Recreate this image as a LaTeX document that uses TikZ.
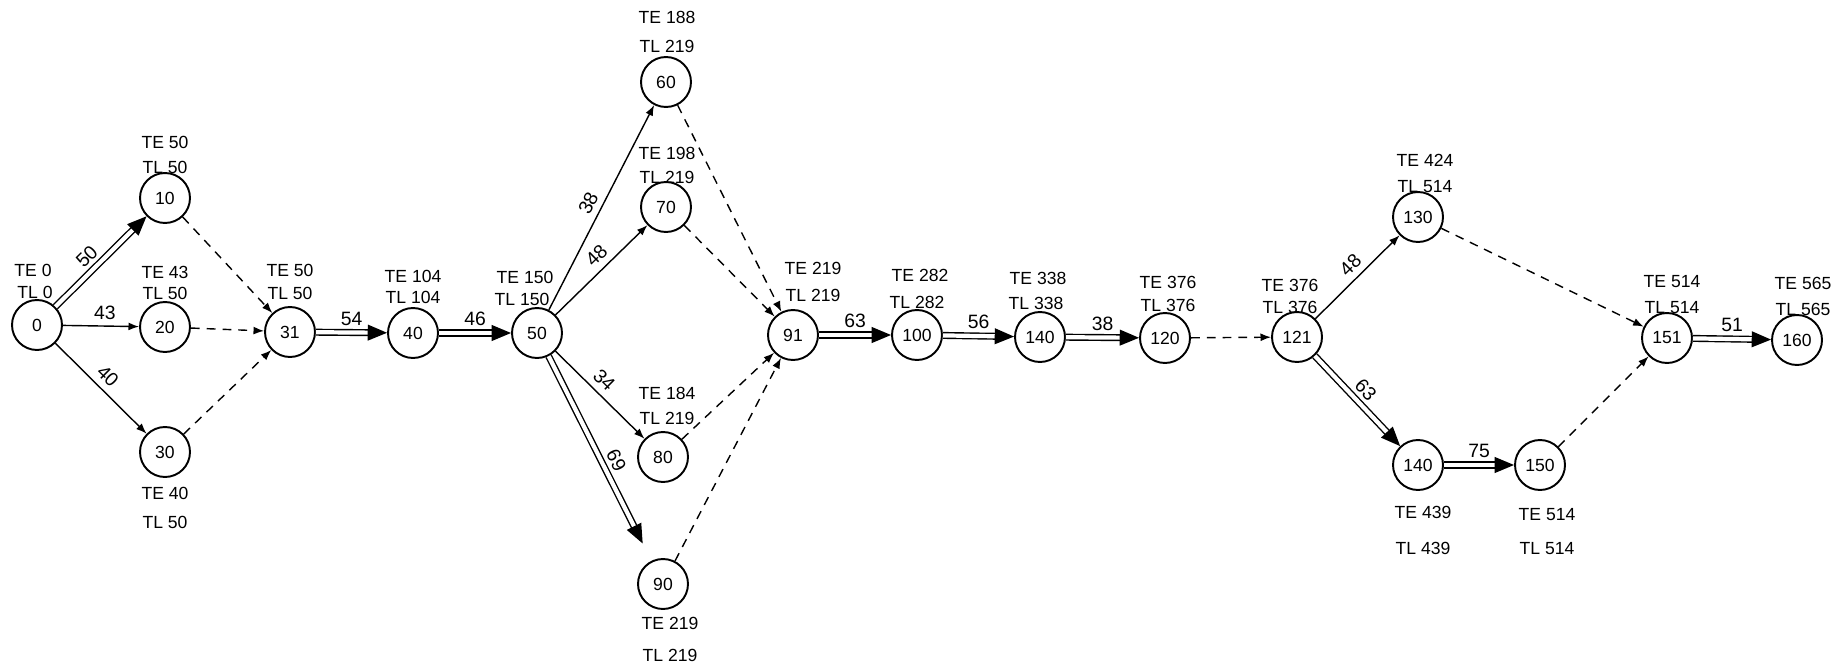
\documentclass[tikz,border=0pt]{standalone}
\usepackage{fontspec}
\setmainfont{Liberation Sans}
\usetikzlibrary{arrows.meta}
\tikzset{
  evt/.style={draw, circle, line width=1.1pt, minimum size=1cm, inner sep=0pt, font=\fontsize{10}{12}\selectfont},
  tag/.style={inner sep=0pt, font=\fontsize{10}{12}\selectfont},
  dur/.style={inner sep=3.5pt, font=\fontsize{11}{13}\selectfont},
  act/.style={line width=0.8pt, -{Latex[length=6pt,width=4.5pt]}},
  crit/.style={line width=0.8pt, double, double distance=2.4pt, -{Triangle[length=11pt,width=9pt]}},
  dummy/.style={line width=0.8pt, dash pattern=on 5pt off 4pt, -{Latex[length=6pt,width=4.5pt]}},
}
\begin{document}
\begin{tikzpicture}[x=0.02cm, y=-0.02cm]
  \useasboundingbox (0,0) rectangle (1843,669);

  % Events
  \node[evt] (e0)   at (37,325)   {0};
  \node[evt] (e10)  at (165,198)  {10};
  \node[evt] (e20)  at (165,327)  {20};
  \node[evt] (e30)  at (165,452)  {30};
  \node[evt] (e31)  at (290,332)  {31};
  \node[evt] (e40)  at (413,333)  {40};
  \node[evt] (e50)  at (537,333)  {50};
  \node[evt] (e60)  at (666,82)   {60};
  \node[evt] (e70)  at (666,207)  {70};
  \node[evt] (e80)  at (663,457)  {80};
  \node[evt] (e90)  at (663,584)  {90};
  \node[evt] (e91)  at (793,335)  {91};
  \node[evt] (e100) at (917,335)  {100};
  \node[evt] (e140) at (1040,337) {140};
  \node[evt] (e120) at (1165,338) {120};
  \node[evt] (e121) at (1297,337) {121};
  \node[evt] (e130) at (1418,217) {130};
  \node[evt] (f140) at (1418,465) {140};
  \node[evt] (e150) at (1540,465) {150};
  \node[evt] (e151) at (1667,338) {151};
  \node[evt] (e160) at (1797,340) {160};

  % Times
  \node[tag] (te0)   at (33,270)   {TE 0};
  \node[tag] (tl0)   at (35,292)   {TL 0};
  \node[tag] (te10)  at (165,142)  {TE 50};
  \node[tag] (tl10)  at (165,167)  {TL 50};
  \node[tag] (te20)  at (165,272)  {TE 43};
  \node[tag] (tl20)  at (165,293)  {TL 50};
  \node[tag] (te30)  at (165,493)  {TE 40};
  \node[tag] (tl30)  at (165,522)  {TL 50};
  \node[tag] (te31)  at (290,270)  {TE 50};
  \node[tag] (tl31)  at (290,293)  {TL 50};
  \node[tag] (te40)  at (413,276)  {TE 104};
  \node[tag] (tl40)  at (413,297)  {TL 104};
  \node[tag] (te50)  at (525,277)  {TE 150};
  \node[tag] (tl50)  at (522,299)  {TL 150};
  \node[tag] (te60)  at (667,17)   {TE 188};
  \node[tag] (tl60)  at (667,46)   {TL 219};
  \node[tag] (te70)  at (667,153)  {TE 198};
  \node[tag] (tl70)  at (667,177)  {TL 219};
  \node[tag] (te80)  at (667,393)  {TE 184};
  \node[tag] (tl80)  at (667,418)  {TL 219};
  \node[tag] (te90)  at (670,623)  {TE 219};
  \node[tag] (tl90)  at (670,655)  {TL 219};
  \node[tag] (te91)  at (813,268)  {TE 219};
  \node[tag] (tl91)  at (813,295)  {TL 219};
  \node[tag] (te100) at (920,275)  {TE 282};
  \node[tag] (tl100) at (917,302)  {TL 282};
  \node[tag] (te140) at (1038,278) {TE 338};
  \node[tag] (tl140) at (1036,303) {TL 338};
  \node[tag] (te120) at (1168,282) {TE 376};
  \node[tag] (tl120) at (1168,305) {TL 376};
  \node[tag] (te121) at (1290,285) {TE 376};
  \node[tag] (tl121) at (1290,307) {TL 376};
  \node[tag] (te130) at (1425,160) {TE 424};
  \node[tag] (tl130) at (1425,187) {TL 514};
  \node[tag] (tf140) at (1423,512) {TE 439};
  \node[tag] (tlf40) at (1423,548) {TL 439};
  \node[tag] (te150) at (1547,515) {TE 514};
  \node[tag] (tl150) at (1547,549) {TL 514};
  \node[tag] (te151) at (1672,282) {TE 514};
  \node[tag] (tl151) at (1672,308) {TL 514};
  \node[tag] (te160) at (1803,283) {TE 565};
  \node[tag] (tl160) at (1803,309) {TL 565};

  % Activities
  \draw[crit] (e0) -- node[dur, above, sloped, pos=0.45] (d50) {50} (e10);
  \draw[act] (e0) -- node[dur, above, pos=0.55] (d43) {43} (e20);
  \draw[act] (e0) -- node[dur, above, sloped, pos=0.47] (d40) {40} (e30);
  \draw[crit] (e31) -- node[dur, above] (d54) {54} (e40);
  \draw[crit] (e40) -- node[dur, above] (d46) {46} (e50);
  \draw[act] (e50) -- node[dur, above, sloped, pos=0.49] (d38) {38} (e60);
  \draw[act] (e50) -- node[dur, above, sloped, pos=0.55] (d48) {48} (e70);
  \draw[act] (e50) -- node[dur, above, sloped, pos=0.44] (d34) {34} (e80);
  \draw[crit, shorten >=11pt] (e50) -- node[dur, above, sloped, pos=0.54] (d69) {69} (e90);
  \draw[crit] (e91) -- node[dur, above] (d63) {63} (e100);
  \draw[crit] (e100) -- node[dur, above] (d56) {56} (e140);
  \draw[crit] (e140) -- node[dur, above] (d38b) {38} (e120);
  \draw[act] (e121) -- node[dur, above, sloped, pos=0.53] (d48b) {48} (e130);
  \draw[crit] (e121) -- node[dur, above, sloped, pos=0.48] (d63b) {63} (f140);
  \draw[crit] (f140) -- node[dur, above] (d75) {75} (e150);
  \draw[crit] (e151) -- node[dur, above] (d51) {51} (e160);

  % Dummies
  \draw[dummy] (e10) -- (e31);
  \draw[dummy] (e20) -- (e31);
  \draw[dummy] (e30) -- (e31);
  \draw[dummy] (e60) -- (e91);
  \draw[dummy] (e70) -- (e91);
  \draw[dummy] (e80) -- (e91);
  \draw[dummy] (e90) -- (e91);
  \draw[dummy] (e120) -- (e121);
  \draw[dummy] (e130) -- (e151);
  \draw[dummy] (e150) -- (e151);
\end{tikzpicture}
\end{document}
